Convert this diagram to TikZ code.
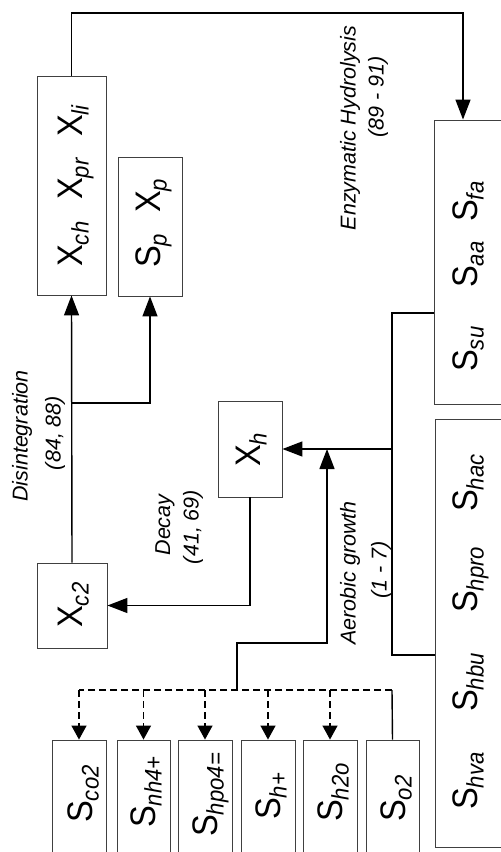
\documentclass[tikz,border=0pt]{standalone}
\usepackage{fontspec}
\setmainfont{Liberation Sans}
\newfontfamily\itemfont[FakeStretch=0.92]{Liberation Sans}
\usetikzlibrary{arrows.meta,calc}
\newcommand\bsub[2]{#1\raisebox{-6.5pt}{\fontsize{24}{24}\selectfont\itshape #2}}
\begin{document}
\begin{tikzpicture}[x=1pt,y=-1pt,
  box/.style={draw=black!75,line width=0.9pt,inner sep=0pt},
  conn/.style={line width=1.4pt},
  arr/.style={conn,-{Triangle[length=20pt,width=15pt]}},
  darr/.style={conn,dash pattern=on 7pt off 4pt,-{Triangle[length=14pt,width=15pt]}},
  item/.style={rotate=90,anchor=base west,inner sep=0pt,font=\itemfont\fontsize{35.5}{36}\selectfont},
  lbl/.style={rotate=90,inner sep=0pt,font=\fontsize{21.5}{24}\selectfont\itshape}]
\useasboundingbox (0,0) rectangle (501,852);
\clip (0,0) rectangle (501,852);
% boxes
\node[box,minimum width=69pt,minimum height=219pt] (xch) at (71.5,185.5) {};
\node[box,minimum width=64pt,minimum height=139pt] (spxp) at (150,226.5) {};
\node[box,minimum width=64pt,minimum height=96pt] (xh) at (250,449) {};
\node[box,minimum width=70pt,minimum height=85pt] (xc2) at (72,605.5) {};
\node[box,minimum width=126pt,minimum height=284pt] (sbig1) at (497,262) {};
\node[box,minimum width=125pt,minimum height=428pt] (sbig2) at (497.5,633) {};
\node[box,minimum width=54pt,minimum height=116pt] (co2) at (79,798) {};
\node[box,minimum width=53pt,minimum height=116pt] (nh4) at (143.5,798) {};
\node[box,minimum width=54pt,minimum height=116pt] (hpo4) at (205,798) {};
\node[box,minimum width=54pt,minimum height=116pt] (hplus) at (268,798) {};
\node[box,minimum width=54pt,minimum height=116pt] (h2o) at (330,798) {};
\node[box,minimum width=53pt,minimum height=116pt] (o2) at (392.5,798) {};
% box texts
\node[item] (t1) at (82,267) {\bsub{X}{ch}};
\node[item] (t2) at (82,200) {\bsub{X}{pr}};
\node[item] (t3) at (82,137) {\bsub{X}{li}};
\node[item] (t4) at (160,268) {\bsub{S}{p}};
\node[item] (t5) at (160,213) {\bsub{X}{p}};
\node[item] (t6) at (260,467) {\bsub{X}{h}};
\node[item] (t7) at (82,628) {\bsub{X}{c2}};
\node[item] (t8) at (477,372) {\bsub{S}{su}};
\node[item] (t9) at (477,288) {\bsub{S}{aa}};
\node[item] (t10) at (477,222) {\bsub{S}{fa}};
\node[item] (t11) at (477,512) {\bsub{S}{hac}};
\node[item] (t12) at (477,613) {\bsub{S}{hpro}};
\node[item] (t13) at (477,712) {\bsub{S}{hbu}};
\node[item] (t14) at (477,810) {\bsub{S}{hva}};
\node[item] (t15) at (92,823) {\bsub{S}{co2}};
\node[item] (t16) at (155,828) {\bsub{S}{nh4+}};
\node[item] (t17) at (217,837) {\bsub{S}{hpo4=}};
\node[item] (t18) at (280,820) {\bsub{S}{h+}};
\node[item] (t19) at (342,822) {\bsub{S}{h2o}};
\node[item] (t20) at (405,822) {\bsub{S}{o2}};
% labels
\node[lbl] (l1) at (350,128) {Enzymatic Hydrolysis};
\node[lbl] (l2) at (378,97) {(89 - 91)};
\node[lbl] (l3) at (22,436) {Disintegration};
\node[lbl] (l4) at (55,433) {(84, 88)};
\node[lbl] (l5) at (165,525) {Decay};
\node[lbl] (l6) at (193,527) {(41, 69)};
\node[lbl] (l7) at (350,573) {Aerobic growth};
\node[lbl] (l8) at (381,570) {(1 - 7)};
% coordinates
\coordinate (top) at (463,13);
\coordinate (dj) at (72,403);
\coordinate (vtop) at (392,313);
\coordinate (vbot) at (392,655);
\coordinate (dh) at (392,690);
\coordinate (dl) at (79,690);
\coordinate (a1) at (237,690);
\coordinate (a2) at (237,643);
\coordinate (a3) at (327,643);
% connectors
\draw[arr] (xch.north) |- (top) -- (top |- sbig1.north);
\draw[arr] (xc2.north) -- (xch.south);
\draw[arr] (dj) -| (spxp.south);
\draw[arr] (xh.south) |- (xc2.east);
\draw[conn] (vtop -| sbig1.west) -- (vtop) -- (vbot) -- (vbot -| sbig2.west);
\draw[arr] (vtop |- xh.east) -- (xh.east);
\draw[arr] (a1) -- (a2) -- (a3) -- (a3 |- xh.east);
\draw[conn] (o2.north) -- (dh);
\draw[conn,dash pattern=on 7pt off 4pt] (dh) -- (dl);
\draw[darr] (co2.north |- dl) -- (co2.north);
\draw[darr] (nh4.north |- dl) -- (nh4.north);
\draw[darr] (hpo4.north |- dl) -- (hpo4.north);
\draw[darr] (hplus.north |- dl) -- (hplus.north);
\draw[darr] (h2o.north |- dl) -- (h2o.north);
\end{tikzpicture}
\end{document}
